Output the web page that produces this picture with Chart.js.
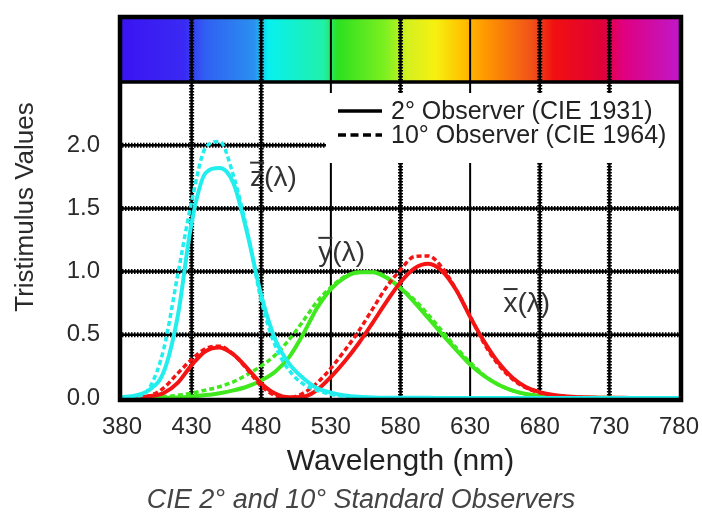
<!DOCTYPE html>
<html>
<head>
<meta charset="utf-8">
<script src="https://cdn.jsdelivr.net/npm/chart.js@4.4.1/dist/chart.umd.min.js"></script>
<style>
  html, body { margin: 0; padding: 0; background: #fff; }
</style>
</head>
<body>
<canvas id="cmfChart" width="702" height="517"></canvas>
<script>
// wavelength samples (nm)
const wavelengths = [380, 390, 400, 410, 420, 430, 440, 450, 460, 470,
  480, 490, 500, 510, 520, 530, 540, 550, 560, 570,
  580, 590, 600, 610, 620, 630, 640, 650, 660, 670,
  680, 690, 700, 710, 720, 730, 740, 750, 760, 770, 780];

// 2 degree observer (CIE 1931)
const xBar2 = [0.001, 0.004, 0.014, 0.040, 0.120, 0.260, 0.370, 0.400, 0.345, 0.235,
  0.115, 0.035, 0.005, 0.009, 0.063, 0.166, 0.290, 0.433, 0.595, 0.762,
  0.916, 1.026, 1.062, 1.003, 0.854, 0.642, 0.448, 0.284, 0.165, 0.087,
  0.047, 0.023, 0.011, 0.006, 0.003, 0.001, 0.001, 0, 0, 0, 0];
const yBar2 = [0, 0, 0, 0.001, 0.004, 0.012, 0.023, 0.038, 0.060, 0.091,
  0.139, 0.208, 0.323, 0.503, 0.710, 0.862, 0.954, 0.995, 0.995, 0.952,
  0.870, 0.757, 0.631, 0.503, 0.381, 0.265, 0.175, 0.107, 0.061, 0.032,
  0.017, 0.008, 0.004, 0.002, 0.001, 0.001, 0, 0, 0, 0, 0];
const zBar2 = [0.006, 0.020, 0.068, 0.207, 0.646, 1.386, 1.780, 1.820, 1.700, 1.300,
  0.813, 0.465, 0.272, 0.158, 0.078, 0.042, 0.020, 0.009, 0.004, 0.002,
  0.002, 0.001, 0.001, 0, 0, 0, 0, 0, 0, 0,
  0, 0, 0, 0, 0, 0, 0, 0, 0, 0, 0];

// 10 degree observer (CIE 1964)
const xBar10 = [0, 0.002, 0.019, 0.080, 0.195, 0.305, 0.390, 0.410, 0.345, 0.225,
  0.095, 0.020, 0.004, 0.037, 0.118, 0.236, 0.377, 0.530, 0.705, 0.879,
  1.014, 1.119, 1.124, 1.030, 0.856, 0.647, 0.432, 0.268, 0.153, 0.081,
  0.041, 0.020, 0.010, 0.005, 0.002, 0.001, 0.001, 0, 0, 0, 0];
const yBar10 = [0, 0, 0.002, 0.009, 0.021, 0.039, 0.062, 0.089, 0.128, 0.185,
  0.254, 0.339, 0.461, 0.607, 0.762, 0.875, 0.962, 0.992, 0.997, 0.956,
  0.869, 0.777, 0.658, 0.528, 0.398, 0.283, 0.180, 0.108, 0.060, 0.032,
  0.016, 0.008, 0.004, 0.002, 0.001, 0, 0, 0, 0, 0, 0];
const zBar10 = [0.001, 0.010, 0.086, 0.389, 0.973, 1.553, 1.980, 2.030, 1.760, 1.318,
  0.772, 0.415, 0.219, 0.112, 0.061, 0.030, 0.014, 0.004, 0, 0,
  0, 0, 0, 0, 0, 0, 0, 0, 0, 0,
  0, 0, 0, 0, 0, 0, 0, 0, 0, 0, 0];

const legendLabels = ['2° Observer (CIE 1931)', '10° Observer (CIE 1964)'];
const curveLabels = [
  { letter: 'z', nm: 472, value: 1.68 },
  { letter: 'y', nm: 521, value: 1.085 },
  { letter: 'x', nm: 654, value: 0.68 }
];
const yTitle = 'Tristimulus Values';
const caption = 'CIE 2° and 10° Standard Observers';

const RED = '#f41414';
const GREEN = '#40e81e';
const CYAN = '#22eeee';
const FONT = '"Liberation Sans", Arial, sans-serif';

function series(values, color, dashed) {
  return {
    data: wavelengths.map((w, i) => ({ x: w, y: values[i] })),
    borderColor: color,
    borderWidth: dashed ? 3.5 : 4,
    borderDash: dashed ? [5, 3] : [],
    pointRadius: 0,
    cubicInterpolationMode: 'monotone',
    fill: false
  };
}

// vertical grid lines drawn solid; the rest are dotted
const solidGridX = [530, 630];

function gridLine(ctx, x1, y1, x2, y2, dotted) {
  ctx.save();
  ctx.strokeStyle = '#000';
  ctx.lineWidth = dotted ? 2.5 : 2;
  ctx.beginPath();
  ctx.moveTo(x1, y1);
  ctx.lineTo(x2, y2);
  ctx.stroke();
  if (dotted) {
    ctx.lineWidth = 5;
    ctx.setLineDash([1.5, 1.5]);
    ctx.stroke();
  }
  ctx.restore();
}

const decor = {
  id: 'decor',
  beforeDatasetsDraw(chart) {
    const { ctx, chartArea: a, scales } = chart;
    const barTop = a.top - 63;

    // spectrum strip
    const g = ctx.createLinearGradient(a.left, 0, a.right, 0);
    const stops = [[380, '#3a14f2'], [425, '#3a2af4'], [440, '#3060f2'], [475, '#2a90f0'],
      [485, '#08f0f0'], [525, '#20f0a8'], [535, '#2ce020'], [570, '#80f020'],
      [585, '#d4f020'], [605, '#f6f010'], [625, '#ffc000'], [640, '#ff9a00'],
      [675, '#f05018'], [690, '#f01010'], [725, '#e00038'], [740, '#e00080'], [780, '#c018c8']];
    stops.forEach(s => g.addColorStop((s[0] - 380) / 400, s[1]));
    ctx.fillStyle = g;
    ctx.fillRect(a.left, barTop, a.right - a.left, a.top - barTop);

    // grid
    scales.x.ticks.forEach(t => {
      if (t.value === 380 || t.value === 780) return;
      const px = scales.x.getPixelForValue(t.value);
      gridLine(ctx, px, barTop, px, a.bottom, !solidGridX.includes(t.value));
    });
    scales.y.ticks.forEach(t => {
      if (t.value <= 0 || t.value >= 2.5) return;
      const py = scales.y.getPixelForValue(t.value);
      gridLine(ctx, a.left, py, a.right, py, true);
    });

    // white box behind the legend hides the grid there
    ctx.save();
    ctx.fillStyle = '#fff';
    ctx.fillRect(326, a.top + 11, a.right - 326, 70);
    ctx.strokeStyle = '#000';
    ctx.lineWidth = 3.5;
    ctx.beginPath();
    ctx.moveTo(a.left, a.top);
    ctx.lineTo(a.right, a.top);
    ctx.stroke();
    ctx.restore();
  },
  afterDatasetsDraw(chart) {
    const { ctx, chartArea: a } = chart;
    const barTop = a.top - 63;
    ctx.save();
    ctx.strokeStyle = '#000';
    ctx.lineWidth = 4.5;
    ctx.strokeRect(a.left - 2, barTop - 2, a.right - a.left + 4, a.bottom - barTop + 4);
    ctx.restore();
  },
  afterDraw(chart) {
    const { ctx, scales } = chart;
    ctx.save();
    ctx.fillStyle = '#222';
    ctx.strokeStyle = '#000';

    // legend
    ctx.font = '25px ' + FONT;
    ctx.textBaseline = 'middle';
    ctx.textAlign = 'left';
    const lx = 338, ly = [111, 135];
    legendLabels.forEach((txt, i) => {
      ctx.lineWidth = 3.5;
      ctx.setLineDash(i === 0 ? [] : [8, 4.5]);
      ctx.beginPath();
      ctx.moveTo(lx, ly[i]);
      ctx.lineTo(lx + 44, ly[i]);
      ctx.stroke();
      ctx.setLineDash([]);
      ctx.fillText(txt, lx + 53, ly[i] + 1);
    });

    // curve names with overbar
    ctx.font = '28px ' + FONT;
    ctx.textBaseline = 'alphabetic';
    ctx.fillStyle = '#333';
    ctx.strokeStyle = '#333';
    curveLabels.forEach(c => {
      const px = scales.x.getPixelForValue(c.nm);
      const py = scales.y.getPixelForValue(c.value);
      ctx.fillText(c.letter + '(λ)', px, py);
      const w = ctx.measureText(c.letter).width;
      ctx.lineWidth = 2;
      ctx.beginPath();
      ctx.moveTo(px, py - 23);
      ctx.lineTo(px + w, py - 23);
      ctx.stroke();
    });

    // y axis title, centred on the whole framed block
    ctx.save();
    ctx.translate(26, 207);
    ctx.rotate(-Math.PI / 2);
    ctx.font = '26px ' + FONT;
    ctx.fillStyle = '#2a2a2a';
    ctx.textAlign = 'center';
    ctx.textBaseline = 'middle';
    ctx.fillText(yTitle, 0, 0);
    ctx.restore();

    // caption
    ctx.font = 'italic 27px ' + FONT;
    ctx.fillStyle = '#444';
    ctx.textAlign = 'center';
    ctx.textBaseline = 'middle';
    ctx.fillText(caption, 361, 500);
    ctx.restore();
  }
};

const ctx = document.getElementById('cmfChart').getContext('2d');
const cmfChart = new Chart(ctx, {
  type: 'line',
  data: {
    datasets: [
      series(zBar10, CYAN, true),
      series(zBar2, CYAN, false),
      series(xBar10, RED, true),
      series(xBar2, RED, false),
      series(yBar10, GREEN, true),
      series(yBar2, GREEN, false)
    ]
  },
  options: {
    responsive: false,
    animation: false,
    devicePixelRatio: 1,
    layout: { padding: { top: 82, right: 23, bottom: 0, left: 0 } },
    plugins: { legend: { display: false }, tooltip: { enabled: false } },
    scales: {
      x: {
        type: 'linear',
        min: 380,
        max: 780,
        grid: { display: false, drawTicks: false },
        border: { display: false },
        ticks: {
          stepSize: 50,
          padding: 15,
          color: '#2a2a2a',
          font: { family: FONT, size: 24 },
          maxRotation: 0,
          callback: v => String(v)
        },
        title: {
          display: true,
          text: 'Wavelength (nm)',
          color: '#222',
          font: { family: FONT, size: 30 },
          padding: { top: 0, bottom: 37 }
        },
        afterFit: s => {
          s.height = 119;
          s.paddingLeft = 0;
          s.paddingRight = 0;
        }
      },
      y: {
        min: 0,
        max: 2.5,
        grid: { display: false, drawTicks: false },
        border: { display: false },
        ticks: {
          stepSize: 0.5,
          padding: 22,
          color: '#2a2a2a',
          font: { family: FONT, size: 24 },
          callback: v => (v > 2.4 ? '' : v.toFixed(1))
        },
        afterFit: s => { s.width = 122; }
      }
    }
  },
  plugins: [decor]
});
</script>
</body>
</html>
